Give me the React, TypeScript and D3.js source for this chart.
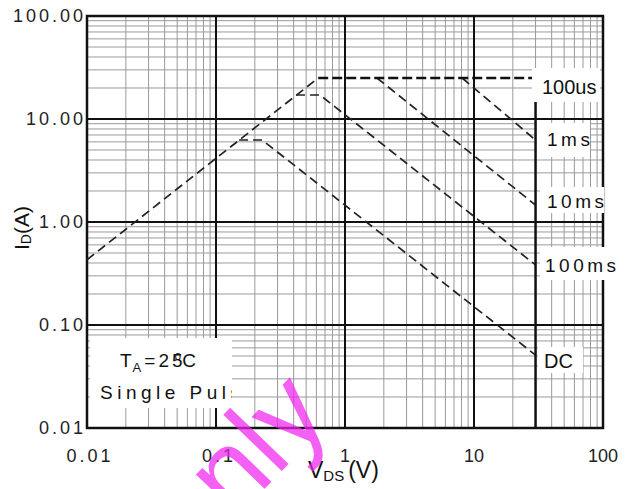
import React from "react";
import * as d3 from "d3";

// SOA curves (V in volts, I in amps)
const rdsV = [0.01, 0.62];
const rdsI = [0.43, 25];
const us100V = [0.62, 30];
const us100I = [25, 25];
const ms1V = [8.1, 30];
const ms1I = [25, 6.25];
const ms10V = [1.77, 30];
const ms10I = [25, 1.46];
const ms100V = [0.417, 0.64, 30];
const ms100I = [17.1, 17.1, 0.383];
const dcV = [0.151, 0.228, 30];
const dcI = [6.25, 6.25, 0.051];
const vdsMaxV = [30, 30];
const vdsMaxI = [25, 0.01];

const xTickVals = [0.01, 0.1, 1, 10, 100];
const xTickLabels = ["0.01", "0.1", "1", "10", "100"];
const yTickVals = [100, 10, 1, 0.1, 0.01];
const yTickLabels = ["100.00", "10.00", "1.00", "0.10", "0.01"];

const W = 635;
const H = 489;
const FONT = "'Liberation Sans', Arial, sans-serif";

const x = d3.scaleLog().domain([0.01, 100]).range([87, 603]);
const y = d3.scaleLog().domain([0.01, 100]).range([428, 16]);

const zip = (vs: number[], is: number[]) => vs.map((v, i) => [v, is[i]] as [number, number]);
const line = d3
  .line<[number, number]>()
  .x((d) => x(d[0]))
  .y((d) => y(d[1]));

// label boxes next to the curves: [x0, y0, x1, y1]
const boxes = [
  { text: "100us", box: [532, 68, 600, 102], tx: 542, ty: 94, ls: 0, fs: 20 },
  { text: "1ms", box: [537, 123, 590, 157], tx: 547, ty: 146, ls: 3.5, fs: 19 },
  { text: "10ms", box: [540, 187, 604, 213], tx: 547, ty: 208, ls: 3.5, fs: 19 },
  { text: "100ms", box: [540, 247, 619, 280], tx: 545, ty: 272, ls: 3.5, fs: 19 },
  { text: "DC", box: [538, 347, 583, 373], tx: 544, ty: 368, ls: 0, fs: 20 },
];

const App = () => {
  const ticksX = x.ticks();
  const ticksY = y.ticks();
  const isMajor = (v: number) => Math.abs(Math.log10(v) - Math.round(Math.log10(v))) < 1e-6;

  const dashed = [
    zip(rdsV, rdsI),
    zip(ms1V, ms1I),
    zip(ms10V, ms10I),
    zip(ms100V, ms100I),
    zip(dcV, dcI),
  ];

  return (
    <svg
      width={W}
      height={H}
      style={{ position: "absolute", left: 0, top: 0, background: "#fff" }}
      fontFamily={FONT}
    >
      <defs>
        {boxes.map((b, i) => (
          <clipPath id={"lbl" + i} key={i}>
            <rect x={b.box[0]} y={b.box[1]} width={b.box[2] - b.box[0]} height={b.box[3] - b.box[1]} />
          </clipPath>
        ))}
        <clipPath id="noteClip">
          <rect x={90} y={338} width={142} height={70} />
        </clipPath>
      </defs>

      {/* minor grid */}
      {ticksX.filter((v) => !isMajor(v)).map((v) => (
        <line key={"mx" + v} x1={x(v)} x2={x(v)} y1={16} y2={428} stroke="#9a9a9a" strokeWidth={1} />
      ))}
      {ticksY.filter((v) => !isMajor(v)).map((v) => (
        <line key={"my" + v} x1={87} x2={603} y1={y(v)} y2={y(v)} stroke="#9a9a9a" strokeWidth={1} />
      ))}
      {/* major grid */}
      {xTickVals.map((v) => (
        <line key={"Mx" + v} x1={x(v)} x2={x(v)} y1={16} y2={428} stroke="#111" strokeWidth={2} />
      ))}
      {yTickVals.map((v) => (
        <line key={"My" + v} x1={87} x2={603} y1={y(v)} y2={y(v)} stroke="#111" strokeWidth={2} />
      ))}
      <rect x={87} y={16} width={516} height={412} fill="none" stroke="#111" strokeWidth={2.5} />

      {/* curves */}
      {dashed.map((pts, i) => (
        <path key={"c" + i} d={line(pts) || ""} fill="none" stroke="#222" strokeWidth={1.7} strokeDasharray="9,5" />
      ))}
      <path d={line(zip(us100V, us100I)) || ""} fill="none" stroke="#111" strokeWidth={2.6} strokeDasharray="10,4" />
      <path d={line(zip(vdsMaxV, vdsMaxI)) || ""} fill="none" stroke="#111" strokeWidth={2.5} />

      {/* curve labels */}
      {boxes.map((b, i) => (
        <g key={"b" + i}>
          <rect x={b.box[0]} y={b.box[1]} width={b.box[2] - b.box[0]} height={b.box[3] - b.box[1]} fill="#fff" />
          <text
            x={b.tx}
            y={b.ty}
            fontSize={b.fs}
            letterSpacing={b.ls}
            fill="#111"
            clipPath={`url(#lbl${i})`}
          >
            {b.text}
          </text>
        </g>
      ))}

      {/* note */}
      <rect x={90} y={338} width={142} height={70} fill="#fff" />
      <g clipPath="url(#noteClip)" fill="#111" fontSize={19} letterSpacing={3}>
        <text x={120} y={367}>
          T<tspan fontSize={13} dy={5} dx={-2}>A</tspan>
          <tspan dy={-5}>=25</tspan>
          <tspan dx={-11} dy={-7} fontSize={12}>o</tspan>
          <tspan dx={-2} dy={7}>C</tspan>
        </text>
        <text x={100} y={399} letterSpacing={4.5}>
          Single Pulse
        </text>
      </g>

      {/* tick labels */}
      {yTickVals.map((v, i) => (
        <text
          key={"yt" + v}
          x={86}
          y={y(v)}
          dy="0.36em"
          textAnchor="end"
          fontSize={18}
          letterSpacing={3}
          fill="#222"
        >
          {yTickLabels[i]}
        </text>
      ))}
      {xTickVals.map((v, i) => (
        <text
          key={"xt" + v}
          x={x(v) + (xTickLabels[i].includes(".") ? 3 : 0)}
          y={462}
          textAnchor="middle"
          fontSize={18}
          letterSpacing={xTickLabels[i].includes(".") ? 3 : 0}
          fill="#222"
        >
          {xTickLabels[i]}
        </text>
      ))}

      {/* axis titles */}
      <text x={308} y={478} fontSize={23} fill="#111">
        V<tspan fontSize={15} dy={3}>DS</tspan>
        <tspan dx={4} dy={-3}>(V)</tspan>
      </text>
      <text transform="translate(29,250) rotate(-90)" fontSize={21} fill="#111">
        I<tspan fontSize={14} dy={2}>D</tspan>
        <tspan dy={-2}>(A)</tspan>
      </text>

      {/* watermark */}
      <text
        transform="translate(190,566) rotate(-46)"
        fontSize={112}
        fill="#ee22ee"
        fillOpacity={0.72}
      >
        only
      </text>
    </svg>
  );
};

export default App;
